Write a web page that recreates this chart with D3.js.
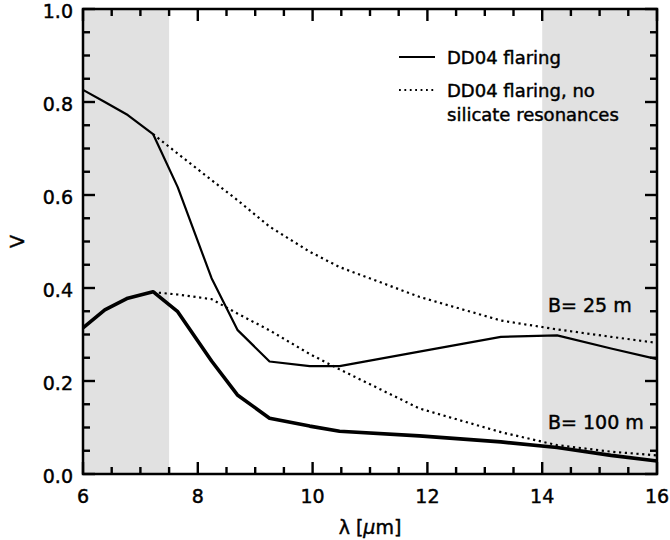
<!DOCTYPE html>
<html>
<head>
    <script type="text/javascript" src="https://cdn.jsdelivr.net/npm/d3@7"></script>
    <style>
        body { margin: 0px; background: white; }
        text { font-family: "DejaVu Sans", sans-serif; fill: black; stroke: black; stroke-width: 0.45px; }
    </style>
</head>
<body>
    <svg id="SVGCanvas" width="670" height="540"></svg>

    <script>
        // wavelength grid (micron) and visibilities
        var wavelength = [6.0, 6.38, 6.78, 7.22, 7.65, 8.24, 8.69, 9.25, 9.95, 10.47, 11.86, 13.28, 14.26, 15.2, 16.0];
        var v25 = [0.826, 0.800, 0.772, 0.731, 0.617, 0.421, 0.310, 0.242, 0.232, 0.232, 0.263, 0.295, 0.298, 0.270, 0.247];
        var v100 = [0.314, 0.353, 0.378, 0.392, 0.349, 0.243, 0.170, 0.120, 0.103, 0.092, 0.082, 0.069, 0.057, 0.040, 0.028];
        // no silicate resonances (same as above shortward of 7.2 micron)
        var v25NoSil = [null, null, null, 0.731, 0.689, 0.632, 0.589, 0.532, 0.478, 0.445, 0.381, 0.330, 0.311, 0.295, 0.282];
        var v100NoSil = [null, null, null, 0.391, 0.386, 0.376, 0.345, 0.309, 0.258, 0.225, 0.141, 0.090, 0.062, 0.048, 0.040];

        var shadedBands = [[6, 7.5], [14, 16]];
        var xTicks = [6, 8, 10, 12, 14, 16];
        var yTicks = [0.0, 0.2, 0.4, 0.6, 0.8, 1.0];
        var legendLabels = ["DD04 flaring", "DD04 flaring, no", "silicate resonances"];
        var baselineLabels = ["B= 25 m", "B= 100 m"];

        // plot box in pixels (window.top is reserved, so prefixed names)
        var pL = 83, pR = 657, pT = 9, pB = 474;
        var svg = d3.select("svg");

        var xScale = d3.scaleLinear().domain([6, 16]).range([pL, pR]);
        var yScale = d3.scaleLinear().domain([0, 1]).range([pB, pT]);

        //grey bands
        svg.selectAll("rect.band")
            .data(shadedBands)
            .enter()
            .append("rect")
            .attr("class", "band")
            .attr("x", d => xScale(d[0]))
            .attr("width", d => xScale(d[1]) - xScale(d[0]))
            .attr("y", pT)
            .attr("height", pB - pT)
            .style("fill", "#e1e1e1");

        //the four curves
        function series(vals) {
            return wavelength.map((w, i) => [w, vals[i]]).filter(d => d[1] !== null);
        }
        var lineGen = d3.line().x(d => xScale(d[0])).y(d => yScale(d[1]));

        var curves = [
            {vals: v25NoSil, width: 2.2, dash: "2.2,3.6"},
            {vals: v100NoSil, width: 2.2, dash: "2.2,3.6"},
            {vals: v25, width: 2.2, dash: null},
            {vals: v100, width: 3.6, dash: null}
        ];
        svg.selectAll("path.curve")
            .data(curves)
            .enter()
            .append("path")
            .attr("class", "curve")
            .attr("d", d => lineGen(series(d.vals)))
            .style("fill", "none")
            .style("stroke", "black")
            .style("stroke-width", d => d.width)
            .style("stroke-linejoin", "round")
            .style("stroke-dasharray", d => d.dash);

        //frame
        svg.append("rect")
            .attr("x", pL).attr("y", pT)
            .attr("width", pR - pL).attr("height", pB - pT)
            .style("fill", "none").style("stroke", "black").style("stroke-width", 2.5);

        //ticks pointing inward on all four sides, drawn as small filled rects
        var xMinor = d3.range(6, 16.01, 0.5).filter(v => xTicks.indexOf(v) < 0);
        var yMinor = d3.range(0, 1.001, 0.05).map(v => +v.toFixed(2)).filter(v => yTicks.indexOf(v) < 0);

        var tickW = 2.4;
        var xTickMarks = [];
        xTicks.forEach(v => { xTickMarks.push({v: v, len: 12, edge: "b"}); xTickMarks.push({v: v, len: 12, edge: "t"}); });
        xMinor.forEach(v => { xTickMarks.push({v: v, len: 7, edge: "b"}); xTickMarks.push({v: v, len: 7, edge: "t"}); });
        var yTickMarks = [];
        yTicks.forEach(v => { yTickMarks.push({v: v, len: 12, edge: "l"}); yTickMarks.push({v: v, len: 12, edge: "r"}); });
        yMinor.forEach(v => { yTickMarks.push({v: v, len: 7, edge: "l"}); yTickMarks.push({v: v, len: 7, edge: "r"}); });

        svg.selectAll("rect.xtick")
            .data(xTickMarks)
            .enter()
            .append("rect")
            .attr("class", "xtick")
            .attr("x", d => xScale(d.v) - tickW / 2)
            .attr("width", tickW)
            .attr("y", d => d.edge === "b" ? pB - d.len : pT)
            .attr("height", d => d.len)
            .attr("fill", "#000000");

        svg.selectAll("rect.ytick")
            .data(yTickMarks)
            .enter()
            .append("rect")
            .attr("class", "ytick")
            .attr("y", d => yScale(d.v) - tickW / 2)
            .attr("height", tickW)
            .attr("x", d => d.edge === "l" ? pL : pR - d.len)
            .attr("width", d => d.len)
            .attr("fill", "#000000");

        //tick labels
        svg.selectAll("text.xlab")
            .data(xTicks)
            .enter()
            .append("text")
            .attr("class", "xlab")
            .attr("x", d => xScale(d))
            .attr("y", pB + 29)
            .attr("text-anchor", "middle")
            .style("font-size", "19px")
            .text(d => d);
        svg.selectAll("text.ylab")
            .data(yTicks)
            .enter()
            .append("text")
            .attr("class", "ylab")
            .attr("x", pL - 10)
            .attr("y", d => yScale(d) + 9)
            .attr("text-anchor", "end")
            .style("font-size", "19px")
            .text(d => d3.format(".1f")(d));

        //axis titles
        var xt = svg.append("text")
            .attr("x", (pL + pR) / 2).attr("y", 534)
            .attr("text-anchor", "middle")
            .style("font-size", "19px");
        xt.append("tspan").text("λ [");
        xt.append("tspan").style("font-style", "italic").text("μ");
        xt.append("tspan").text("m]");

        svg.append("text")
            .attr("transform", "translate(24," + (pT + pB) / 2 + ") rotate(-90)")
            .attr("text-anchor", "middle")
            .style("font-size", "19px")
            .text("V");

        //legend
        svg.append("line").attr("x1", 399).attr("x2", 435).attr("y1", 57).attr("y2", 57)
            .style("stroke", "black").style("stroke-width", 2.2);
        svg.append("line").attr("x1", 399).attr("x2", 435).attr("y1", 90).attr("y2", 90)
            .style("stroke", "black").style("stroke-width", 1.8).style("stroke-dasharray", "1.8,3.6");
        svg.selectAll("text.legend")
            .data(legendLabels)
            .enter()
            .append("text")
            .attr("class", "legend")
            .attr("x", 447)
            .attr("y", (d, i) => [64, 97, 121][i])
            .style("font-size", "18px")
            .text(d => d);

        //baseline labels
        svg.selectAll("text.base")
            .data(baselineLabels)
            .enter()
            .append("text")
            .attr("class", "base")
            .attr("x", 548)
            .attr("y", (d, i) => [312, 429][i])
            .style("font-size", "19px")
            .text(d => d);
    </script>
</body>
</html>
